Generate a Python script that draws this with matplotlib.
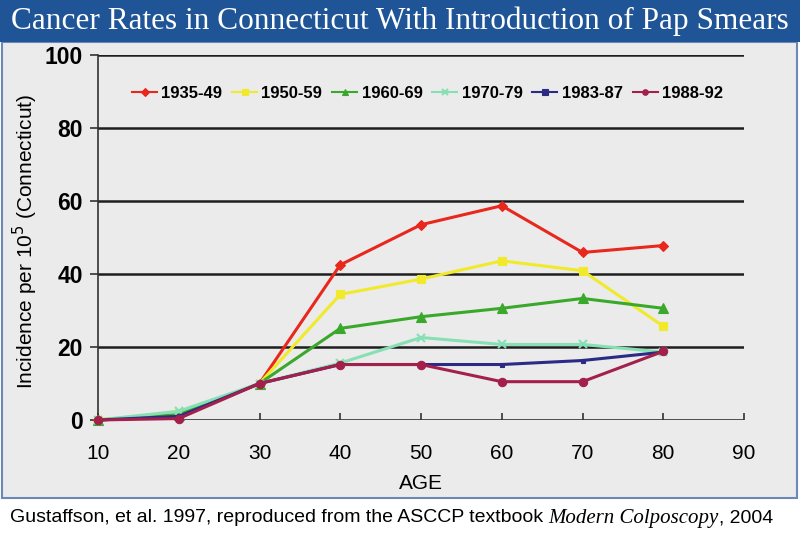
import matplotlib
matplotlib.use("Agg")
import matplotlib.pyplot as plt
from matplotlib.patches import Rectangle

ages = [10, 20, 30, 40, 50, 60, 70, 80]
series_names = ["1935-49", "1950-59", "1960-69", "1970-79", "1983-87", "1988-92"]
r1935 = [0, 1.0, 10, 42.5, 53.5, 58.7, 45.9, 47.8]
r1950 = [0, 2.0, 10, 34.4, 38.6, 43.6, 40.9, 25.7]
r1960 = [0, 1.5, 10, 25.1, 28.3, 30.6, 33.3, 30.6]
r1970 = [0, 2.4, 10, 15.6, 22.6, 20.7, 20.7, 18.6]
r1983 = [0, 1.0, 10, 15.2, 15.2, 15.2, 16.3, 18.6]
r1988 = [0, 0.4, 10, 15.2, 15.2, 10.5, 10.5, 18.8]
x_ticks = [10, 20, 30, 40, 50, 60, 70, 80, 90]
y_ticks = [0, 20, 40, 60, 80, 100]

colors = ["#e8271d", "#f0ea2a", "#3aa82a", "#86e0b4", "#2b2b85", "#a3204c"]
markers = ["D", "s", "^", "x", "s", "o"]
msizes = [5, 6, 7, 6, 3.5, 6]

fig = plt.figure(figsize=(8, 5.35), dpi=100)
fig.patch.set_facecolor("white")

# gray panel
fig.patches.append(Rectangle((2/800, 37/535), 795/800, (535-37-42)/535,
                             transform=fig.transFigure, facecolor="#ebebeb",
                             edgecolor="#6a88b8", lw=1.5, zorder=-10))
# title banner
fig.patches.append(Rectangle((0, (535-42)/535), 1, 42/535,
                             transform=fig.transFigure, facecolor="#1f5497",
                             edgecolor="#1f5497", lw=0, zorder=-9))
fig.text(0.5, (535-21)/535, "Cancer Rates in Connecticut With Introduction of Pap Smears",
         ha="center", va="center", color="white", fontsize=22.5,
         family="Liberation Serif")

ax = fig.add_axes([98/800, 115/535, (744-98)/800, (420-55)/535])
ax.set_facecolor("none")

all_series = [r1935, r1950, r1960, r1970, r1983, r1988]
for name, vals, c, m, ms in zip(series_names, all_series, colors, markers, msizes):
    ax.plot(ages, vals, color=c, marker=m, markersize=ms, lw=2.2,
            markeredgewidth=1.5 if m == "x" else 0.8, markeredgecolor=c,
            label=name, zorder=3, clip_on=False)

for yv in y_ticks:
    ax.axhline(yv, color="#1e1e1e", lw=1.8, zorder=1, xmax=1.006)

ax.set_xlim(10, 90)
ax.set_ylim(0, 100)
ax.set_xticks(x_ticks)
ax.set_yticks(y_ticks)
for s in ["top", "right", "bottom"]:
    ax.spines[s].set_visible(False)
ax.spines["left"].set_color("#333333")
ax.spines["left"].set_linewidth(1.2)
ax.tick_params(axis="y", direction="out", length=6, width=1.2, color="#333333",
               labelsize=16.5, pad=5)
ax.tick_params(axis="x", direction="in", length=5, width=1.2, color="#333333",
               labelsize=15, pad=17)
for lab in ax.get_yticklabels() + ax.get_xticklabels():
    lab.set_family("Liberation Sans")
for lab in ax.get_yticklabels():
    lab.set_fontweight("bold")

ax.set_xlabel("AGE", fontsize=15, family="Liberation Sans", labelpad=8)
ax.set_ylabel("Incidence per 10$^5$ (Connecticut)", fontsize=15,
              family="Liberation Sans")
ax.yaxis.set_label_coords(-0.09, 0.49)

leg = ax.legend(loc="upper center", bbox_to_anchor=(0.51, 0.957), ncol=6,
                frameon=False, handlelength=1.5, handletextpad=0.25,
                columnspacing=0.6, prop={"family": "Liberation Sans", "size": 12,
                                         "weight": "bold"})
for h in leg.legend_handles:
    h.set_linewidth(1.5)
    h.set_markersize(4)

fig.text(10/800, 17/535, "Gustaffson, et al. 1997, reproduced from the ASCCP textbook ",
         ha="left", va="center", fontsize=14, family="Liberation Sans")
fig.canvas.draw()
t1 = fig.texts[-1]
bb = t1.get_window_extent(fig.canvas.get_renderer())
x2 = bb.x1 / fig.bbox.width
t2 = fig.text(x2, 17/535, "Modern Colposcopy", ha="left", va="center",
              fontsize=15, family="Liberation Serif", style="italic")
bb2 = t2.get_window_extent(fig.canvas.get_renderer())
fig.text(bb2.x1 / fig.bbox.width, 17/535, ", 2004", ha="left", va="center",
         fontsize=14, family="Liberation Sans")

fig.savefig("out.png", dpi=100)
